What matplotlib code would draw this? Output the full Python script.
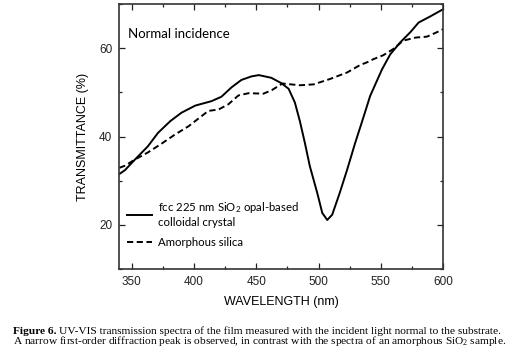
import matplotlib
matplotlib.use('Agg')
import matplotlib.pyplot as plt
from matplotlib.ticker import MultipleLocator

plt.rcParams['mathtext.default'] = 'regular'

# opal film, normal incidence
wl_opal = [340, 344.6, 352.6, 363, 371, 381, 390, 401, 414, 422, 430, 438, 446,
           452, 462, 470, 476, 481, 485, 489, 493, 499, 503, 507, 511, 517, 523,
           529.5, 535, 541.5, 551, 557.6, 565.6, 573.7, 580.4, 589.8, 600]
t_opal = [31.5, 32.4, 34.8, 37.8, 40.8, 43.5, 45.4, 47.0, 48.0, 49.0, 51.1, 52.8, 53.6,
          53.9, 53.3, 52.1, 50.8, 47.7, 43.5, 38.6, 33.3, 27.2, 22.7, 21.1, 22.3, 27.2, 32.5,
          38.6, 43.4, 49.2, 55.2, 58.6, 61.3, 63.6, 65.8, 67.2, 68.8]

# amorphous silica reference
wl_amor = [340, 344.6, 352.6, 363, 374, 385, 395.5, 406, 411.5, 419.6, 427.6, 435.7,
           443.7, 455.8, 462.5, 471, 485, 496, 509, 523, 533.5, 539, 544, 552, 560,
           568, 578, 587, 595, 600]
t_amor = [32.9, 33.4, 34.8, 36.4, 38.4, 40.5, 42.3, 44.6, 45.8, 46.1, 47.3, 49.3,
          49.8, 49.7, 50.5, 52.0, 51.6, 51.8, 53.0, 54.5, 56.2, 56.8, 57.5, 58.4, 59.8,
          61.7, 62.4, 62.6, 63.6, 64.3]

label_opal = 'fcc 225 nm SiO$_2$ opal-based\ncolloidal crystal'
label_amor = 'Amorphous silica'

fig = plt.figure(figsize=(5.17, 3.54), dpi=100)
ax = fig.add_axes([0.2308, 0.2401, 0.6261, 0.7486])

ax.plot(wl_opal, t_opal, color='black', lw=1.4, label=label_opal)
ax.plot(wl_amor, t_amor, color='black', lw=1.4, ls=(0, (3.2, 1.8)), label=label_amor)

ax.set_xlim(340, 600)
ax.set_ylim(10, 70)
ax.xaxis.set_major_locator(MultipleLocator(50))
ax.xaxis.set_minor_locator(MultipleLocator(25))
ax.yaxis.set_major_locator(MultipleLocator(20))
ax.yaxis.set_minor_locator(MultipleLocator(10))
ax.tick_params(which='both', direction='in', top=True, right=True,
               labelsize=8.5, colors='#222222', width=0.9)
ax.tick_params(which='major', length=4, pad=5)
ax.tick_params(which='minor', length=2.5)
for s in ax.spines.values():
    s.set_linewidth(1.2)
    s.set_color('#333333')

ax.set_xlabel('WAVELENGTH (nm)', fontsize=9, family='Liberation Sans', labelpad=6)
ax.set_ylabel('TRANSMITTANCE (%)', fontsize=9, family='Liberation Sans', labelpad=7)
for lab in ax.get_xticklabels() + ax.get_yticklabels():
    lab.set_family('Liberation Sans')

ax.text(0.027, 0.885, 'Normal incidence', transform=ax.transAxes,
        fontsize=9.5, family='Lato', va='center')

ax.legend(loc='lower left', bbox_to_anchor=(0.0, 0.05), frameon=False,
          prop={'family': 'Lato', 'size': 8.2}, handlelength=2.2,
          handletextpad=0.5, labelspacing=0.75, borderaxespad=0.3)

# caption
fig.canvas.draw()
r = fig.canvas.get_renderer()
cap_font = 'Liberation Serif'
cap_size = 8.2
t1 = fig.text(0.025, 1 - 334 / 354, 'Figure 6.', fontsize=cap_size, family=cap_font,
              weight='bold', va='baseline')
bb = t1.get_window_extent(r)
x2 = (bb.x1 + 2.5) / fig.bbox.width
fig.text(x2, 1 - 334 / 354,
         'UV-VIS transmission spectra of the film measured with the incident light normal to the substrate.',
         fontsize=cap_size, family=cap_font, va='baseline')
fig.text(0.025, 1 - 344.5 / 354,
         'A narrow first-order diffraction peak is observed, in contrast with the spectra of an amorphous SiO$_2$ sample.',
         fontsize=cap_size, family=cap_font, va='baseline')

fig.savefig('out.png', dpi=100)
